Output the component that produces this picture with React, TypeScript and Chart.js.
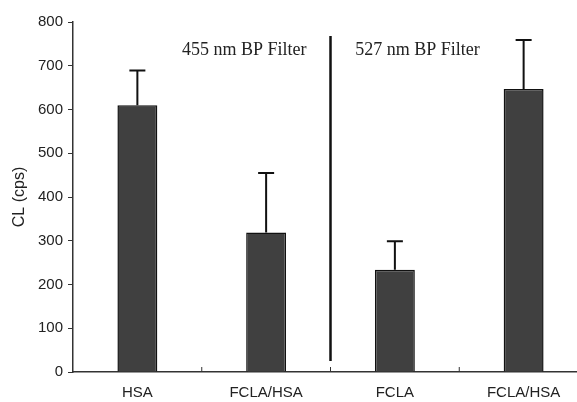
import React, { useEffect, useRef } from "react";
import { Chart, registerables } from "chart.js";

Chart.register(...registerables);

const categories = ["HSA", "FCLA/HSA", "FCLA", "FCLA/HSA"];
const means = [610, 319, 234, 647];
const errUpper = [79, 136, 65, 112];
const yTicks = [0, 100, 200, 300, 400, 500, 600, 700, 800];
const filterLabels = ["455 nm BP Filter", "527 nm BP Filter"];
const filterLabelPos = [0.83, 2.175];

const overlay = {
  id: "overlay",
  afterDatasetsDraw(chart: any) {
    const ctx = chart.ctx;
    const x = chart.scales.x;
    const y = chart.scales.y;
    const meta = chart.getDatasetMeta(0);
    ctx.save();
    // error bars
    ctx.strokeStyle = "#111";
    ctx.lineWidth = 2;
    meta.data.forEach((bar: any, i: number) => {
      const top = y.getPixelForValue(means[i] + errUpper[i]);
      const base = y.getPixelForValue(means[i]);
      ctx.beginPath();
      ctx.moveTo(bar.x, base);
      ctx.lineTo(bar.x, top);
      ctx.moveTo(bar.x - 8, top);
      ctx.lineTo(bar.x + 8, top);
      ctx.stroke();
    });
    // divider
    const dx = (x.getPixelForValue(1) + x.getPixelForValue(2)) / 2;
    ctx.lineWidth = 2.5;
    ctx.beginPath();
    ctx.moveTo(dx, y.getPixelForValue(768));
    ctx.lineTo(dx, y.getPixelForValue(25));
    ctx.stroke();
    // x category boundary ticks
    ctx.lineWidth = 1;
    ctx.strokeStyle = "#333";
    for (let i = 0; i < categories.length - 1; i++) {
      const bx = (x.getPixelForValue(i) + x.getPixelForValue(i + 1)) / 2;
      ctx.beginPath();
      ctx.moveTo(bx, y.getPixelForValue(0));
      ctx.lineTo(bx, y.getPixelForValue(0) - 5);
      ctx.stroke();
    }
    // filter labels
    ctx.fillStyle = "#222";
    ctx.font = "18px 'Liberation Serif', 'Times New Roman', serif";
    ctx.textAlign = "center";
    ctx.textBaseline = "middle";
    filterLabels.forEach((t, i) => {
      ctx.fillText(t, x.getPixelForValue(filterLabelPos[i]), y.getPixelForValue(736));
    });
    ctx.restore();
  },
};

export default function App() {
  const ref = useRef<HTMLCanvasElement>(null);
  useEffect(() => {
    if (!ref.current) return;
    const chart = new Chart(ref.current, {
      type: "bar",
      data: {
        labels: categories,
        datasets: [
          {
            data: means,
            backgroundColor: "#404040",
            borderColor: "#111",
            borderWidth: 1.5,
            barPercentage: 0.31,
            categoryPercentage: 1,
          },
        ],
      },
      options: {
        responsive: false,
        animation: false,
        layout: { padding: { top: 22, right: 0, left: 0, bottom: 0 } },
        plugins: { legend: { display: false }, tooltip: { enabled: false } },
        scales: {
          x: {
            grid: { display: false, drawTicks: false },
            border: { color: "#333", width: 1.5 },
            ticks: {
              color: "#222",
              font: { family: "'Liberation Sans', Arial, sans-serif", size: 15 },
              padding: 12,
              maxRotation: 0,
            },
            afterFit(s: any) {
              s.height = 30;
            },
          },
          y: {
            min: 0,
            max: 800,
            afterBuildTicks(s: any) {
              s.ticks = yTicks.map((v) => ({ value: v }));
            },
            grid: { drawOnChartArea: false, drawTicks: true, tickLength: 5, color: "#333" },
            border: { color: "#333", width: 1.5 },
            ticks: {
              color: "#222",
              font: { family: "'Liberation Sans', Arial, sans-serif", size: 15 },
              padding: 5,
            },
            title: {
              display: true,
              text: "CL (cps)",
              color: "#222",
              font: { family: "'Liberation Sans', Arial, sans-serif", size: 16 },
              padding: { top: 10, bottom: 0 },
            },
            afterFit(s: any) {
              s.width = 73;
            },
          },
        },
      },
      plugins: [overlay],
    });
    return () => chart.destroy();
  }, []);
  return (
    <div
      style={{
        position: "fixed",
        left: 0,
        top: 0,
        width: 577,
        height: 402,
        overflow: "hidden",
        background: "#fff",
      }}
    >
      <canvas ref={ref} width={588} height={402} style={{ display: "block" }} />
    </div>
  );
}
